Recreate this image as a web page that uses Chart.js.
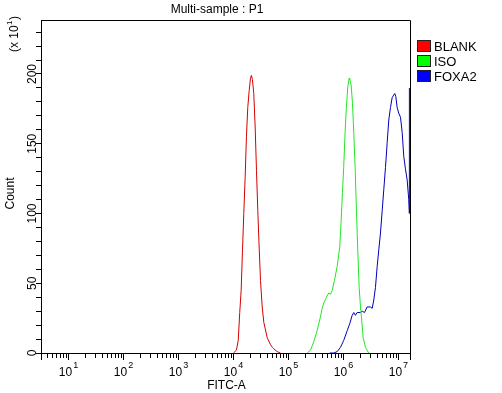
<!DOCTYPE html>
<html><head><meta charset="utf-8">
<script src="https://cdn.jsdelivr.net/npm/chart.js@4/dist/chart.umd.min.js"></script>
<style>html,body{margin:0;padding:0;background:#fff;}#wrap{width:502px;height:393px;position:relative;}</style>
</head><body><div id="wrap"><canvas id="c" width="502" height="393"></canvas></div>
<script>
// ---- data (FITC-A value, count in units of x10) ----
const seriesNames = ['BLANK', 'ISO', 'FOXA2'];
const blankX = [1.00e4, 1.13e4, 1.22e4, 1.30e4, 1.38e4, 1.46e4, 1.54e4, 1.63e4, 1.72e4, 1.82e4, 1.93e4, 2.04e4, 2.12e4, 2.21e4, 2.34e4, 2.48e4, 2.62e4, 2.77e4, 2.93e4, 3.10e4, 3.33e4, 3.56e4, 4.10e4, 4.71e4, 5.10e4, 5.41e4, 6.23e4, 7.16e4];
const blankY = [0, 2, 9, 29, 45, 74, 100, 126, 155, 176, 188, 197, 199, 196, 186, 162, 131, 102, 76, 52, 33, 22, 11, 6, 4, 3, 1, 0];
const isoX = [2.19e5, 2.51e5, 2.88e5, 3.32e5, 3.82e5, 4.10e5, 4.39e5, 4.91e5, 5.41e5, 5.81e5, 6.24e5, 6.86e5, 7.68e5, 8.57e5, 9.08e5, 9.59e5, 1.01e6, 1.07e6, 1.13e6, 1.20e6, 1.27e6, 1.30e6, 1.38e6, 1.46e6, 1.54e6, 1.63e6, 1.72e6, 1.82e6, 1.93e6, 2.04e6, 2.12e6, 2.28e6, 2.51e6, 2.88e6];
const isoY = [0, 2, 8, 16, 26, 32, 36, 40, 43, 42, 45, 52, 62, 76, 95, 115, 133, 158, 176, 191, 197, 196, 192, 179, 158, 133, 103, 74, 47, 33, 26, 11, 4, 0];
const foxaX = [5.64e5, 6.66e5, 7.68e5, 8.82e5, 1.01e6, 1.17e6, 1.30e6, 1.44e6, 1.54e6, 1.65e6, 1.77e6, 2.04e6, 2.19e6, 2.41e6, 2.70e6, 3.10e6, 3.33e6, 3.56e6, 3.82e6, 4.10e6, 4.39e6, 4.71e6, 5.06e6, 5.41e6, 5.81e6, 6.24e6, 6.67e6, 7.16e6, 7.68e6, 8.22e6, 8.57e6, 8.94e6, 9.47e6, 1.01e7, 1.09e7, 1.17e7, 1.25e7, 1.34e7, 1.44e7, 1.54e7, 1.58e7, 1.58e7];
const foxaY = [0, 0, 1, 4, 9, 16, 21, 27, 29, 27, 29, 29, 30, 29, 33, 33, 32, 38, 47, 62, 74, 86, 102, 117, 133, 151, 167, 176, 183, 185, 186, 184, 176, 172, 169, 158, 141, 132, 124, 110, 100, 190];

// ---- tick labels / texts ----
const yTickLabels = [0, 50, 100, 150, 200];
const xDecades = [1, 2, 3, 4, 5, 6, 7];
const titleText = 'Multi-sample : P1';
const xTitle = 'FITC-A';
const yTitle = 'Count';
const yMultBase = '(x 10', yMultExp = '1', yMultEnd = ')';

// ---- styles ----
const lineColors = ['#d40000', '#22e622', '#0000b4'];
const legendColors = ['#ff0000', '#00ff00', '#0000ff'];
const FONT = '"Liberation Sans", Arial, sans-serif';
const X_MIN = Math.pow(10, 0.5), X_MAX = Math.pow(10, 7.21), Y_MAX = 238.7;

function pts(xs, ys) { return xs.map((x, i) => ({ x: x, y: ys[i] })); }

const deco = {
  id: 'deco',
  beforeDatasetsDraw(chart) {
    const { ctx, chartArea: a } = chart;
    ctx.save();
    ctx.strokeStyle = '#000'; ctx.lineWidth = 1;
    ctx.beginPath();
    ctx.moveTo(a.left, a.top + 0.5);
    ctx.lineTo(a.right + 0.5, a.top + 0.5);
    ctx.lineTo(a.right + 0.5, a.bottom);
    ctx.stroke();
    ctx.restore();
  },
  afterDraw(chart) {
    const { ctx, chartArea: a } = chart;
    const xs = chart.scales.x, ys = chart.scales.y;
    ctx.save();
    ctx.strokeStyle = '#000'; ctx.lineWidth = 1; ctx.fillStyle = '#000';
    // x ticks (log)
    ctx.beginPath();
    const tickAt = (v, len) => {
      const px = Math.round(xs.getPixelForValue(v)) + 0.5;
      ctx.moveTo(px, a.bottom); ctx.lineTo(px, a.bottom + len);
    };
    for (let k = 0; k <= 7; k++) {
      for (let m = 1; m <= 9; m++) {
        const v = m * Math.pow(10, k);
        if (v >= X_MIN && v <= X_MAX) tickAt(v, m === 1 ? 7 : 5);
      }
    }
    tickAt(X_MIN, 7); tickAt(X_MAX, 7);
    ctx.stroke();
    // x tick labels 10^k
    ctx.textBaseline = 'alphabetic';
    xDecades.forEach(k => {
      const px = xs.getPixelForValue(Math.pow(10, k));
      ctx.font = '12px ' + FONT; const w1 = ctx.measureText('10').width;
      ctx.font = '9px ' + FONT; const w2 = ctx.measureText(String(k)).width;
      const sx = px - (w1 + w2 + 1) / 2;
      ctx.font = '12px ' + FONT; ctx.textAlign = 'left';
      ctx.fillText('10', sx, 376);
      ctx.font = '9px ' + FONT;
      ctx.fillText(String(k), sx + w1 + 1, 368);
    });
    // x title
    ctx.font = '12px ' + FONT; ctx.textAlign = 'center';
    ctx.fillText(xTitle, (a.left + a.right) / 2 + 1, 389);
    // title
    ctx.fillText(titleText, 217, 13);
    // y tick labels (rotated)
    ctx.font = '12px ' + FONT;
    yTickLabels.forEach(v => {
      const py = ys.getPixelForValue(v);
      ctx.save(); ctx.translate(35.5, py); ctx.rotate(-Math.PI / 2);
      ctx.textAlign = 'center'; ctx.fillText(String(v), 0, 0); ctx.restore();
    });
    // y title
    ctx.font = '12px ' + FONT;
    ctx.save(); ctx.translate(14, (a.top + a.bottom) / 2 + 7); ctx.rotate(-Math.PI / 2);
    ctx.textAlign = 'center'; ctx.fillText(yTitle, 0, 0); ctx.restore();
    // multiplier (x 10^1)
    ctx.save(); ctx.translate(18, 34); ctx.rotate(-Math.PI / 2);
    ctx.font = '12px ' + FONT; const m1 = ctx.measureText(yMultBase).width, m3 = ctx.measureText(yMultEnd).width;
    ctx.font = '8px ' + FONT; const m2 = ctx.measureText(yMultExp).width;
    let sx = -(m1 + m2 + m3 + 1) / 2;
    ctx.textAlign = 'left';
    ctx.font = '12px ' + FONT; ctx.fillText(yMultBase, sx, 0);
    ctx.font = '8px ' + FONT; ctx.fillText(yMultExp, sx + m1 + 0.5, -6);
    ctx.font = '12px ' + FONT; ctx.fillText(yMultEnd, sx + m1 + m2 + 1, 0);
    ctx.restore();
    // legend
    ctx.font = '13px ' + FONT; ctx.textAlign = 'left';
    chart.data.datasets.forEach((ds, i) => {
      const by = 40 + i * 15;
      ctx.fillStyle = legendColors[i];
      ctx.fillRect(417, by, 14, 12);
      ctx.strokeStyle = '#222';
      ctx.strokeRect(417.5, by + 0.5, 13, 11);
      ctx.fillStyle = '#000';
      ctx.fillText(ds.label, 434, by + 11);
    });
    ctx.restore();
  }
};

new Chart(document.getElementById('c'), {
  type: 'line',
  data: {
    datasets: [
      { label: seriesNames[0], data: pts(blankX, blankY), borderColor: lineColors[0] },
      { label: seriesNames[1], data: pts(isoX, isoY), borderColor: lineColors[1] },
      { label: seriesNames[2], data: pts(foxaX, foxaY), borderColor: lineColors[2] }
    ]
  },
  options: {
    responsive: false, animation: false, devicePixelRatio: 1,
    elements: { line: { borderWidth: 1, tension: 0, fill: false }, point: { radius: 0 } },
    layout: { padding: { top: 20, right: 92, left: 0, bottom: 0 } },
    plugins: { legend: { display: false }, title: { display: false }, tooltip: { enabled: false } },
    scales: {
      x: {
        type: 'logarithmic', min: X_MIN, max: X_MAX,
        ticks: { display: false },
        grid: { display: false },
        border: { display: true, color: '#000', width: 1 },
        afterFit: s => { s.height = 40; }
      },
      y: {
        type: 'linear', min: 0, max: Y_MAX,
        ticks: { display: false },
        grid: { drawOnChartArea: false, drawTicks: true, tickLength: 5, color: '#000' },
        border: { display: true, color: '#000', width: 1 },
        afterBuildTicks: s => { const t = []; for (let v = 0; v <= 230; v += 10) t.push({ value: v }); s.ticks = t; },
        afterFit: s => { s.width = 41; }
      }
    }
  },
  plugins: [deco]
});
</script>
</body></html>
